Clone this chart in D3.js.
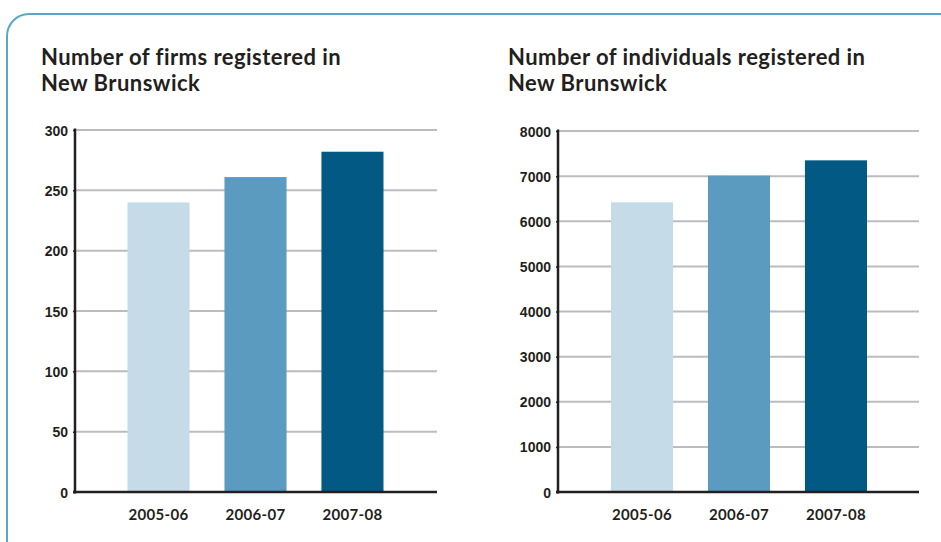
<!DOCTYPE html>
<html>
<head>
<meta charset="utf-8">
<script src="https://cdn.jsdelivr.net/npm/d3@7"></script>
<style>
  body { margin: 0; background: #fff; }
  svg { display: block; }
</style>
</head>
<body>
<div id="area"></div>
<script>
var years = ["2005-06", "2006-07", "2007-08"];
var firms = [240, 261, 282];
var individuals = [6420, 7010, 7350];
var firmTicks = [0, 50, 100, 150, 200, 250, 300];
var indivTicks = [0, 1000, 2000, 3000, 4000, 5000, 6000, 7000, 8000];
var barColors = ["#c5dce8", "#5b9bbf", "#025a84"];

var width = 941, height = 542;

var svg = d3.select("#area").append("svg")
  .attr("width", width)
  .attr("height", height);

// rounded frame, runs off the right and bottom edge
svg.append("rect")
  .attr("x", 7).attr("y", 14)
  .attr("width", 960).attr("height", 560)
  .attr("rx", 22).attr("ry", 22)
  .attr("fill", "none")
  .attr("stroke", "#5aa6c8")
  .attr("stroke-width", 2);

function drawChart(opt) {
  var g = svg.append("g");

  // title
  var title = g.append("text")
    .attr("x", opt.titleX)
    .attr("y", 65)
    .style("font-family", "Lato, 'Open Sans', sans-serif")
    .style("font-weight", "bold")
    .style("font-size", "22px")
    .style("letter-spacing", "0.45px")
    .style("fill", "#231f20");
  opt.title.forEach(function(t, i) {
    title.append("tspan").attr("x", opt.titleX).attr("dy", i ? 25.5 : 0).text(t);
  });

  var y = d3.scaleLinear().domain([0, opt.max]).range([opt.bottom, opt.top]);
  var x = d3.scaleBand().domain(years).range(opt.xRange).paddingInner(0.36).paddingOuter(0);

  // gridlines
  g.selectAll("line.grid")
    .data(opt.ticks.filter(function(d) { return d > 0; }))
    .enter().append("line")
    .attr("class", "grid")
    .attr("x1", opt.left).attr("x2", opt.right)
    .attr("y1", function(d) { return y(d); })
    .attr("y2", function(d) { return y(d); })
    .attr("stroke", "#bcbcbf")
    .attr("stroke-width", 2);

  // bars
  g.selectAll("rect.bar")
    .data(opt.values)
    .enter().append("rect")
    .attr("class", "bar")
    .attr("x", function(d, i) { return x(years[i]); })
    .attr("width", x.bandwidth())
    .attr("y", function(d) { return y(d); })
    .attr("height", function(d) { return y(0) - y(d); })
    .attr("fill", function(d, i) { return barColors[i]; });

  // y axis
  var yAxis = d3.axisLeft(y).tickValues(opt.ticks).tickSize(2).tickFormat(d3.format("d"));
  var ya = g.append("g")
    .attr("transform", "translate(" + opt.left + ",0)")
    .call(yAxis);
  ya.select(".domain").remove();
  ya.selectAll(".tick line").attr("stroke", "#231f20").attr("stroke-width", 1.5);
  ya.selectAll(".tick text")
    .attr("x", -7)
    .attr("dy", "0.36em")
    .style("font-family", "'Liberation Sans', Arial, sans-serif")
    .style("font-weight", "bold")
    .style("font-size", "14px")
    .style("fill", "#231f20");

  // axis lines
  g.append("line")
    .attr("x1", opt.left).attr("x2", opt.left)
    .attr("y1", opt.top - 1.5).attr("y2", opt.bottom + 1.5)
    .attr("stroke", "#231f20").attr("stroke-width", 2.5);
  g.append("line")
    .attr("x1", opt.left - 2).attr("x2", opt.right)
    .attr("y1", opt.bottom).attr("y2", opt.bottom)
    .attr("stroke", "#231f20").attr("stroke-width", 2.5);

  // x labels
  g.selectAll("text.xl")
    .data(years)
    .enter().append("text")
    .attr("class", "xl")
    .attr("x", function(d) { return x(d) + x.bandwidth() / 2; })
    .attr("y", 520)
    .attr("text-anchor", "middle")
    .style("font-family", "Lato, 'Open Sans', sans-serif")
    .style("font-weight", "bold")
    .style("font-size", "15px")
    .style("letter-spacing", "0.3px")
    .style("fill", "#231f20")
    .text(function(d) { return d; });
}

drawChart({
  title: ["Number of firms registered in", "New Brunswick"],
  titleX: 41,
  values: firms,
  ticks: firmTicks,
  max: 300,
  left: 75, right: 437,
  top: 130, bottom: 492,
  xRange: [127.5, 383.5]
});

drawChart({
  title: ["Number of individuals registered in", "New Brunswick"],
  titleX: 508,
  values: individuals,
  ticks: indivTicks,
  max: 8000,
  left: 558, right: 919,
  top: 131, bottom: 492,
  xRange: [611, 867]
});
</script>
</body>
</html>
